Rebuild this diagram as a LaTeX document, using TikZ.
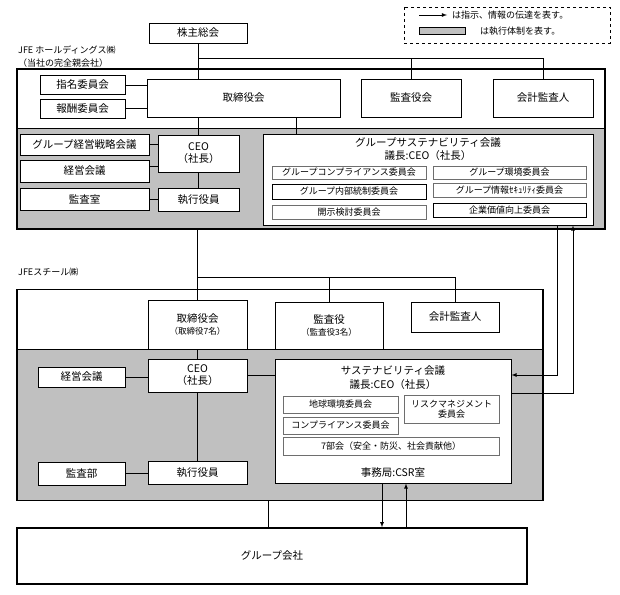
\documentclass[tikz,border=0pt]{standalone}
\usepackage{fontspec}
\setmainfont{Noto Sans CJK JP}
\usetikzlibrary{arrows}
\definecolor{ExecGray}{RGB}{192,192,192}
\definecolor{SubGray}{RGB}{110,110,110}

\begin{document}
\begin{tikzpicture}[x=1pt,y=-1pt,font=\fontsize{10.5}{12}\selectfont]
          \tikzstyle{BoxStyle}=[draw,fill=white,line width=0.9pt,inner sep=0pt,align=center]
          \tikzstyle{SubStyle}=[BoxStyle,draw=SubGray,line width=0.7pt,font=\fontsize{9}{10.5}\selectfont]
          \tikzstyle{FrameStyle}=[draw,line width=1.4pt,inner sep=0pt]
          \tikzstyle{LabelStyle}=[anchor=west,inner sep=0pt,font=\fontsize{9}{10}\selectfont]
          \tikzstyle{EdgeStyle}=[line width=0.8pt]
          \useasboundingbox (0,0) rectangle (620,594);
          % legend
          \draw[dashed,line width=0.8pt] (404,7) rectangle (610,43);
          \coordinate (legA) at (419,15);
          \coordinate (legB) at (447,15);
          \draw[EdgeStyle,-latex] (legA) -- (legB);
          \node[LabelStyle] (legtxt1) at (452,15) {は指示、情報の伝達を表す。};
          \draw[fill=ExecGray,line width=0.8pt] (419,27) rectangle (465,34);
          \node[LabelStyle] (legtxt2) at (480,31) {は執行体制を表す。};
          % holding company frame
          \node[LabelStyle] (hdname) at (18,50) {JFE ホールディングス㈱};
          \node[LabelStyle] (hdnote) at (18,63) {（当社の完全親会社）};
          \fill[ExecGray] (17,128) rectangle (605,229);
          \draw[EdgeStyle] (17,128) -- (605,128);
          \node[FrameStyle,minimum width=588pt,minimum height=160pt] (hd) at (311,149) {};
          % steel frame
          \node[LabelStyle] (stname) at (18,272) {JFEスチール㈱};
          \fill[ExecGray] (17,349) rectangle (543,500);
          \draw[EdgeStyle] (17,349) -- (543,349);
          \node[FrameStyle,minimum width=526pt,minimum height=211pt] (st) at (280,395) {};
          % holding company boxes
          \node[BoxStyle,minimum width=98pt,minimum height=20pt] (gsm) at (198,33) {株主総会};
          \node[BoxStyle,minimum width=85pt,minimum height=19pt] (hdnom) at (82.5,85) {指名委員会};
          \node[BoxStyle,minimum width=85pt,minimum height=19pt] (hdpay) at (82.5,108.5) {報酬委員会};
          \node[BoxStyle,minimum width=193pt,minimum height=38pt] (hdboard) at (243.5,98) {取締役会};
          \node[BoxStyle,minimum width=100pt,minimum height=38pt] (hdaudit) at (411,98) {監査役会};
          \node[BoxStyle,minimum width=100pt,minimum height=38pt] (hdacct) at (543,98) {会計監査人};
          \node[BoxStyle,minimum width=129pt,minimum height=21pt] (hdstrat) at (84.5,144.5) {グループ経営戦略会議};
          \node[BoxStyle,minimum width=129pt,minimum height=22pt] (hdmgmt) at (84.5,171) {経営会議};
          \node[BoxStyle,minimum width=129pt,minimum height=22pt] (hdaudr) at (84.5,199) {監査室};
          \node[BoxStyle,minimum width=81pt,minimum height=37pt] (hdceo) at (198.5,153.5) {CEO\\（社長）};
          \node[BoxStyle,minimum width=81pt,minimum height=23pt] (hdexec) at (198.5,199.5) {執行役員};
          \node[BoxStyle,minimum width=330pt,minimum height=91pt] (hdsust) at (428,179.5) {};
          \node[inner sep=0pt] (hdsustt) at (428,143) {グループサステナビリティ会議};
          \node[inner sep=0pt] (hdsustc) at (428,155.5) {議長:CEO（社長）};
          \node[SubStyle,minimum width=154pt,minimum height=13pt] (gcomp) at (349,172.5) {グループコンプライアンス委員会};
          \node[SubStyle,minimum width=153pt,minimum height=13pt] (genv) at (509.5,172.5) {グループ環境委員会};
          \node[SubStyle,draw=black,minimum width=154pt,minimum height=15pt] (gint) at (349,191.5) {グループ内部統制委員会};
          \node[SubStyle,minimum width=153pt,minimum height=14pt] (gsec) at (509.5,190) {グループ情報ｾｷｭﾘﾃｨ委員会};
          \node[SubStyle,minimum width=154pt,minimum height=14pt] (gdisc) at (349,212) {開示検討委員会};
          \node[SubStyle,draw=black,minimum width=153pt,minimum height=14pt] (gval) at (509.5,210) {企業価値向上委員会};
          % steel boxes
          \node[BoxStyle,minimum width=99pt,minimum height=49pt] (stboard) at (197.5,324.5) {取締役会\\{\fontsize{8.5}{10.5}\selectfont （取締役7名）}};
          \node[BoxStyle,minimum width=108pt,minimum height=47pt] (staudit) at (329,325.5) {監査役\\{\fontsize{8.5}{10.5}\selectfont （監査役3名）}};
          \node[BoxStyle,minimum width=88pt,minimum height=30pt] (stacct) at (455,317) {会計監査人};
          \node[BoxStyle,minimum width=87pt,minimum height=20pt] (stmgmt) at (81.5,377) {経営会議};
          \node[BoxStyle,minimum width=99pt,minimum height=33pt] (stceo) at (197.5,375.5) {CEO\\（社長）};
          \node[BoxStyle,minimum width=87pt,minimum height=23pt] (staudr) at (81.5,473.5) {監査部};
          \node[BoxStyle,minimum width=99pt,minimum height=23pt] (stexec) at (197.5,472.5) {執行役員};
          \node[BoxStyle,minimum width=236pt,minimum height=124pt] (stsust) at (393,421) {};
          \node[inner sep=0pt] (stsustt) at (393,371) {サステナビリティ会議};
          \node[inner sep=0pt] (stsustc) at (393,385) {議長:CEO（社長）};
          \node[SubStyle,minimum width=115pt,minimum height=17pt] (searth) at (340.5,404.5) {地球環境委員会};
          \node[SubStyle,minimum width=95pt,minimum height=28pt] (srisk) at (451.5,409) {リスクマネジメント\\委員会};
          \node[SubStyle,minimum width=115pt,minimum height=17pt] (scomp) at (340.5,425.5) {コンプライアンス委員会};
          \node[SubStyle,minimum width=216pt,minimum height=18pt] (sseven) at (391,446) {7部会（安全・防災、社会貢献他）};
          \node[inner sep=0pt] (stoffice) at (393,473) {事務局:CSR室};
          % group companies
          \node[FrameStyle,fill=white,minimum width=510pt,minimum height=56pt] (gc) at (272,556) {グループ会社};
          % straight edges
          \draw[EdgeStyle] (gsm.south) -- (gsm.south |- hdboard.north);
          \coordinate (hdj) at (198,58);
          \draw[EdgeStyle] (hdj) -| (hdaudit.north);
          \draw[EdgeStyle] (hdj) -| (hdacct.north);
          \draw[EdgeStyle] (hdnom.east) -- (hdnom.east -| hdboard.west);
          \draw[EdgeStyle] (hdpay.east) -- (hdpay.east -| hdboard.west);
          \draw[EdgeStyle] (hdceo.north) -- (hdceo.north |- hdboard.south);
          \draw[EdgeStyle] ([xshift=53pt]hdboard.south) -- ([xshift=53pt]hdboard.south |- hdsust.north);
          \draw[EdgeStyle] (hdstrat.east) -- (hdstrat.east -| hdceo.west);
          \draw[EdgeStyle] ([yshift=5pt]hdmgmt.east) -- ([yshift=5pt]hdmgmt.east -| hdceo.west);
          \draw[EdgeStyle] (hdaudr.east) -- (hdaudr.east -| hdexec.west);
          \draw[EdgeStyle] (hdceo.south) -- (hdexec.north);
          \draw[EdgeStyle] (hd.south -| stboard.north) -- (stboard.north);
          \coordinate (stj) at (197.5,277);
          \draw[EdgeStyle] (stj) -| (staudit.north);
          \draw[EdgeStyle] (stj) -| (stacct.north);
          \draw[EdgeStyle] (stboard.south) -- (stceo.north);
          \draw[EdgeStyle] (stmgmt.east) -- (stmgmt.east -| stceo.west);
          \draw[EdgeStyle] (stceo.east) -- (stceo.east -| stsust.west);
          \draw[EdgeStyle] (staudr.east) -- (staudr.east -| stexec.west);
          \draw[EdgeStyle] (stceo.south) -- (stexec.north);
          \draw[EdgeStyle] ([xshift=-4pt]gc.north) -- ([xshift=-4pt]gc.north |- st.south);
          % arrows
          \draw[EdgeStyle,-latex] ([xshift=129pt]hdsust.south) |- ([yshift=46pt]stsust.east);
          \draw[EdgeStyle,-latex] ([yshift=28pt]stsust.east) -| ([xshift=145pt]hdsust.south);
          \draw[EdgeStyle,-latex] ([xshift=-11pt]stsust.south) -- ([xshift=-11pt]stsust.south |- gc.north);
          \draw[EdgeStyle,-latex] ([xshift=13pt]stsust.south |- gc.north) -- ([xshift=13pt]stsust.south);
        \end{tikzpicture}
\end{document}
